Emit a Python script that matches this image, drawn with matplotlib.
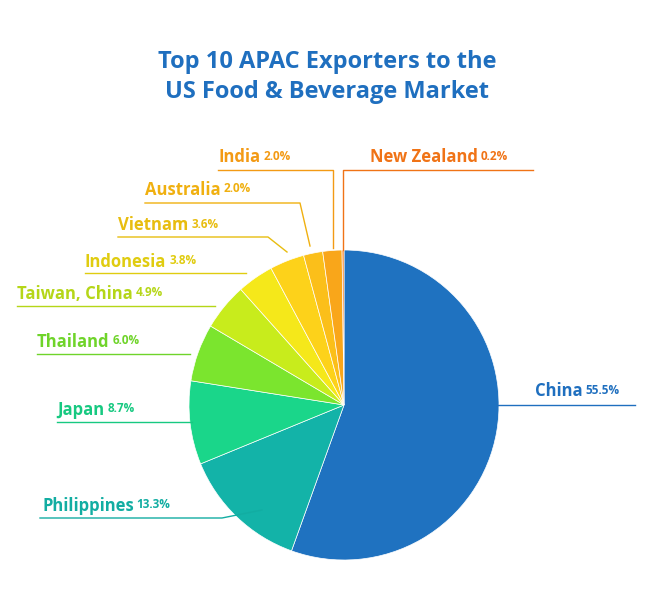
import matplotlib
matplotlib.use("Agg")
import matplotlib.pyplot as plt

countries = ["China","Philippines","Japan","Thailand","Taiwan, China","Indonesia","Vietnam","Australia","India","New Zealand"]
shares = [55.5,13.3,8.7,6.0,4.9,3.8,3.6,2.0,2.0,0.2]
colors = ["#1f72c0","#13b3a8","#1ad68a","#7be52e","#c8ec1c","#f5e81a","#fdd21a","#fbbf1a","#f9a61a","#f57c1a"]
label_colors = ["#1f6fbf","#12ada2","#17c981","#6fd42a","#b5d618","#e0cc10","#e8bd10","#f0b010","#f39a14","#f07316"]

layout = {
 "China": (535,391,[(497,405),(635,405)]),
 "Philippines": (42,506,[(40,518),(222,518),(262,510)]),
 "Japan": (57,410,[(57,422),(192,422)]),
 "Thailand": (37,342,[(37,354),(190,354)]),
 "Taiwan, China": (17,294,[(17,306),(215,306)]),
 "Indonesia": (85,262,[(85,273),(246,273)]),
 "Vietnam": (118,225,[(118,237),(268,237),(287,252)]),
 "Australia": (145,190,[(145,203),(300,203),(310,246)]),
 "India": (218,157,[(218,170),(333,170),(333,248)]),
 "New Zealand": (370,157,[(533,170),(343,170),(343,250)]),
}

H = 600
fig = plt.figure(figsize=(6.58,6.0), dpi=100)
ax = fig.add_axes([0,0,1,1])
ax.set_xlim(0,658); ax.set_ylim(0,H); ax.set_aspect("equal"); ax.axis("off")
ax.pie(shares, colors=colors, startangle=90, counterclock=False, center=(344,H-405), radius=155,
       wedgeprops=dict(linewidth=0.5, edgecolor="white"))
ax.set_xlim(0,658); ax.set_ylim(0,H)

fig.text(0.497, 1-62/H, "Top 10 APAC Exporters to the", ha="center", va="center",
         fontsize=17, fontweight="bold", color="#1f6fbf", family="Open Sans")
fig.text(0.497, 1-92/H, "US Food & Beverage Market", ha="center", va="center",
         fontsize=17, fontweight="bold", color="#1f6fbf", family="Open Sans")

fig.canvas.draw()
r = fig.canvas.get_renderer()
for c, s, lc in zip(countries, shares, label_colors):
    x, y, pts = layout[c]
    t = ax.text(x, H-y, c, fontsize=12, fontweight="bold", color=lc, family="Open Sans", va="center", ha="left")
    bb = t.get_window_extent(r)
    x2 = ax.transData.inverted().transform((bb.x1, 0))[0]
    ax.text(x2+3, H-y+1, f"{s:.1f}%", fontsize=8.5, fontweight="bold", color=lc, family="Open Sans", va="center", ha="left")
    ax.plot([p[0] for p in pts], [H-p[1] for p in pts], color=lc, lw=1)

fig.savefig("out.png", dpi=100, facecolor="white")
